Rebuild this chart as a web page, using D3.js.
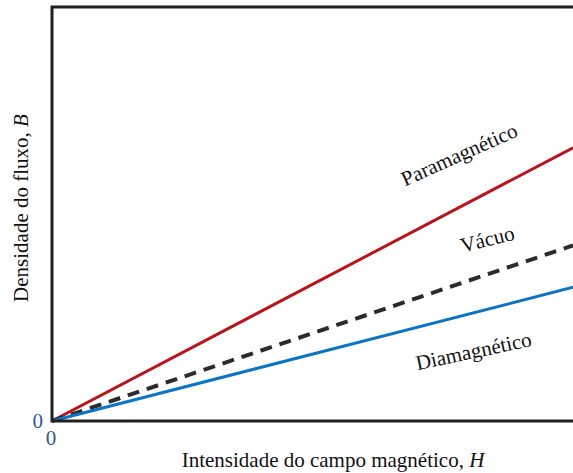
<!DOCTYPE html>
<html>
<head>
<meta charset="utf-8">
<script src="https://cdn.jsdelivr.net/npm/d3@7"></script>
<style>
  body { margin: 0; background: #fff; }
  text { font-family: "Liberation Serif", "Times New Roman", serif; }
</style>
</head>
<body>
<svg></svg>
<script>
const width = 573;
const height = 473;

// data: B = slope * H for each material
const materials = ["Paramagnético", "Vácuo", "Diamagnético"];
const hValues = [0, 10];
const slopes = [0.66, 0.424, 0.323];
const colors = ["#b8141c", "#2b2b2b", "#0b74c4"];
const tickLabels = ["0"];

const margin = { left: 52, top: 7, right: 0, bottom: 52 };

const svg = d3.select('svg').attr('width', width).attr('height', height);

const x = d3.scaleLinear().domain([0, 10]).range([margin.left, width - margin.right]);
const y = d3.scaleLinear().domain([0, 10]).range([height - margin.bottom, margin.top]);

const line = d3.line().x(d => x(d[0])).y(d => y(d[1]));

materials.forEach((m, i) => {
    const pts = hValues.map(h => [h, h * slopes[i]]);
    svg.append('path')
        .datum(pts)
        .attr('d', line)
        .attr('fill', 'none')
        .attr('stroke', colors[i])
        .attr('stroke-width', m === "Vácuo" ? 4 : 3)
        .attr('stroke-dasharray', m === "Vácuo" ? "12,8" : null);
});

// frame: left, top and bottom
svg.append('path')
    .attr('d', `M${width},${y(10)}H${x(0)}V${y(0)}H${width}`)
    .attr('fill', 'none')
    .attr('stroke', '#231f20')
    .attr('stroke-width', 3);

// zero labels
svg.append('text').attr('x', x(0) - 9).attr('y', y(0) + 7)
    .attr('text-anchor', 'end').attr('font-size', 21).attr('fill', '#2c5d8f')
    .text(tickLabels[0]);
svg.append('text').attr('x', x(0) - 1).attr('y', y(0) + 24)
    .attr('text-anchor', 'middle').attr('font-size', 21).attr('fill', '#2c5d8f')
    .text(tickLabels[0]);

// curve labels
const labelPos = [[462, 161, -24], [489, 246, -14], [475, 358, -12]];
materials.forEach((m, i) => {
    const p = labelPos[i];
    svg.append('text')
        .attr('transform', `translate(${p[0]},${p[1]}) rotate(${p[2]})`)
        .attr('text-anchor', 'middle')
        .attr('font-size', 21)
        .attr('fill', '#111')
        .text(m);
});

// axis titles
const xt = svg.append('text')
    .attr('x', 333).attr('y', 467)
    .attr('text-anchor', 'middle').attr('font-size', 21).attr('fill', '#111');
xt.append('tspan').text('Intensidade do campo magnético, ');
xt.append('tspan').attr('font-style', 'italic').text('H');

const yt = svg.append('text')
    .attr('transform', 'translate(28,208) rotate(-90)')
    .attr('text-anchor', 'middle').attr('font-size', 21).attr('fill', '#111');
yt.append('tspan').text('Densidade do fluxo, ');
yt.append('tspan').attr('font-style', 'italic').text('B');
</script>
</body>
</html>
